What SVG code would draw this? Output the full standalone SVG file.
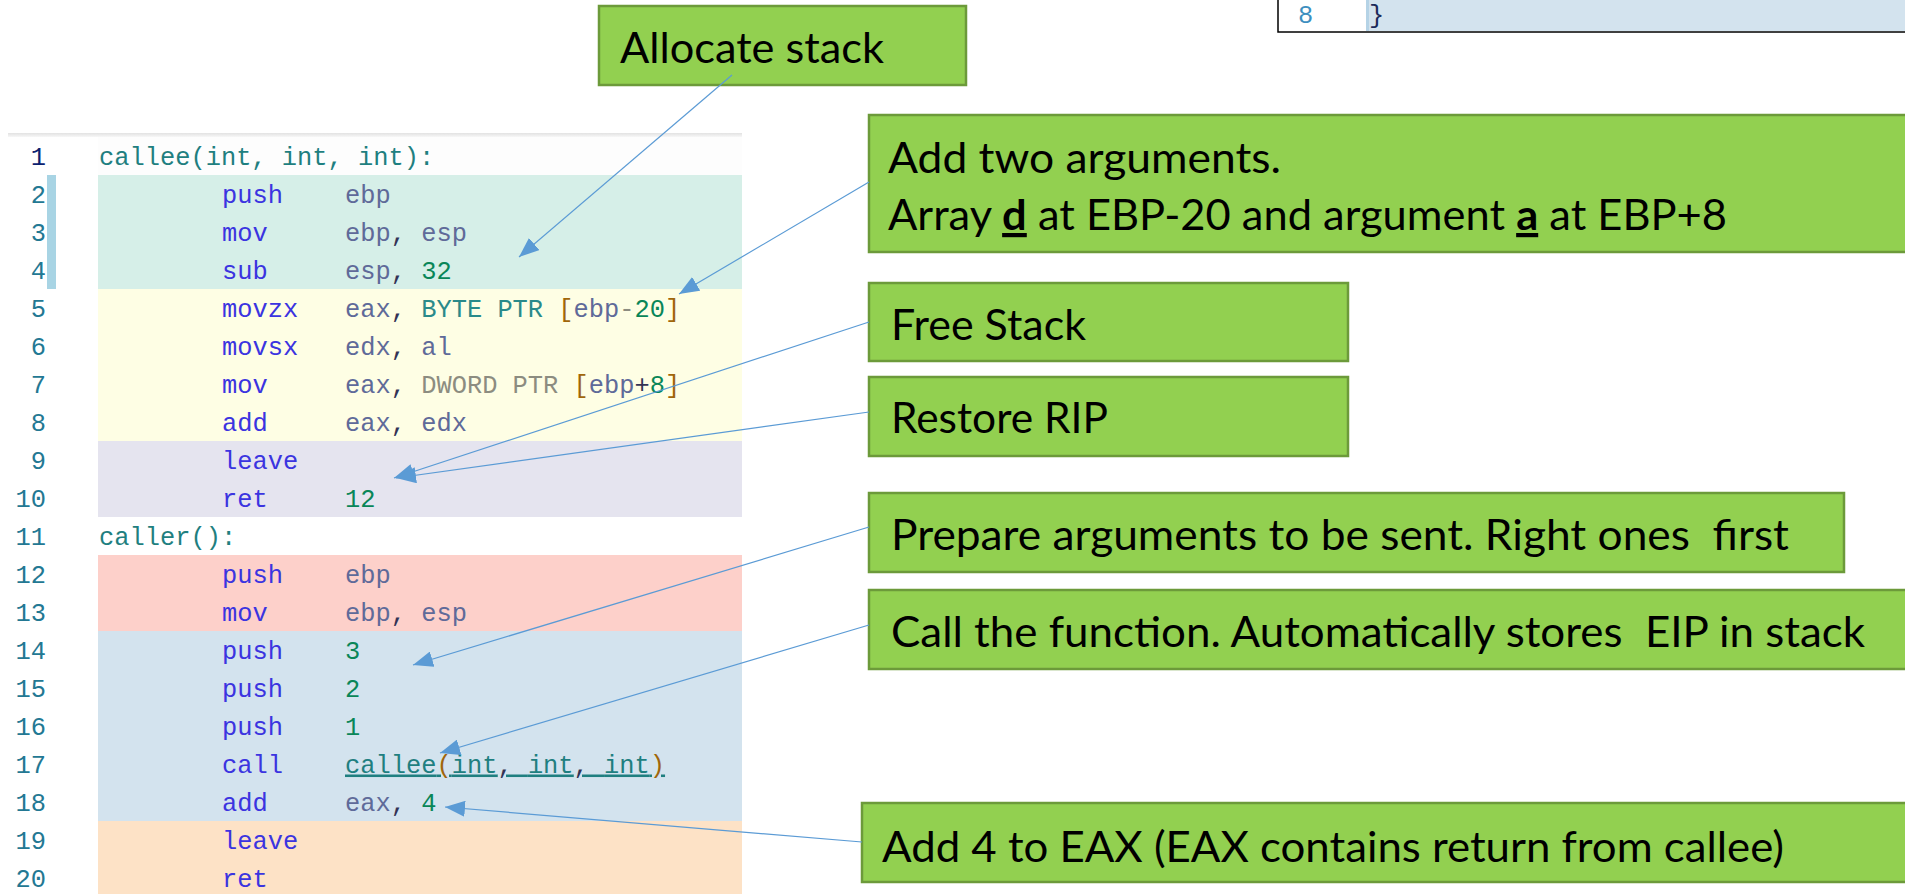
<svg xmlns="http://www.w3.org/2000/svg" width="1905" height="894" viewBox="0 0 1905 894">
<style>
.c{font-family:"Liberation Mono","DejaVu Sans Mono",monospace;font-size:25.4px;white-space:pre}
.ln{fill:#237893;text-anchor:end}
.lab{fill:#1f7f80}
.kw{fill:#3b34e0}
.reg{fill:#5f6a99}
.num{fill:#098658}
.bp{fill:#2a8a8a}
.dw{fill:#8c8c80}
.br{fill:#a0660a}
.pl{fill:#333355}
.box{fill:#92d050;stroke:#6c9a3a;stroke-width:2.5}
.t{font-family:Lato,"Liberation Sans",sans-serif;font-size:42px;fill:#000;white-space:pre}
.conn{stroke:#5b9bd5;stroke-width:1.2;fill:none;marker-end:url(#ah)}
</style>
<defs>
<marker id="ah" markerUnits="userSpaceOnUse" markerWidth="20" markerHeight="16" viewBox="0 0 20 16" refX="20" refY="8" orient="auto">
<path d="M0,0 L20,8 L0,16 z" fill="#5b9bd5"/>
</marker>
<linearGradient id="hdr" x1="0" y1="0" x2="0" y2="1">
<stop offset="0" stop-color="#e2e2e2"/>
<stop offset="1" stop-color="#f7f7f7"/>
</linearGradient>
</defs>
<rect width="1905" height="894" fill="#ffffff"/>

<!-- top-right code snippet -->
<g id="snippet">
<rect x="1278" y="-5" width="640" height="37" fill="#ffffff" stroke="#000" stroke-width="1.5"/>
<rect x="1367" y="-4" width="540" height="35" fill="#d3e3ee"/>
<rect x="1366" y="-4" width="3" height="35" fill="#b5d3e6"/>
<text class="c" x="1298" y="23" fill="#3d8fbf" font-size="27">8</text>
<text class="c" x="1369" y="23" fill="#1a2a5a" font-size="27">}</text>
</g>

<!-- code panel -->
<g id="code">
<rect x="8" y="133" width="734" height="4" fill="url(#hdr)"/>
<rect x="98" y="137" width="644" height="38" fill="#fdfdfd"/>
<rect x="98" y="175" width="644" height="114" fill="#d6efe8"/>
<rect x="98" y="289" width="644" height="152" fill="#fefee4"/>
<rect x="98" y="441" width="644" height="76" fill="#e5e4ef"/>
<rect x="98" y="555" width="644" height="76" fill="#fdd0ca"/>
<rect x="98" y="631" width="644" height="190" fill="#d3e3ee"/>
<rect x="98" y="821" width="644" height="73" fill="#fde2c6"/>
<rect x="47" y="175" width="9" height="114" fill="#a8d4e4"/>

<g class="c">
<text class="ln" x="46" y="164.5" style="fill:#0b216f">1</text>
<text class="ln" x="46" y="202.5">2</text>
<text class="ln" x="46" y="240.5">3</text>
<text class="ln" x="46" y="278.5">4</text>
<text class="ln" x="46" y="316.5">5</text>
<text class="ln" x="46" y="354.5">6</text>
<text class="ln" x="46" y="392.5">7</text>
<text class="ln" x="46" y="430.5">8</text>
<text class="ln" x="46" y="468.5">9</text>
<text class="ln" x="46" y="506.5">10</text>
<text class="ln" x="46" y="544.5">11</text>
<text class="ln" x="46" y="582.5">12</text>
<text class="ln" x="46" y="620.5">13</text>
<text class="ln" x="46" y="658.5">14</text>
<text class="ln" x="46" y="696.5">15</text>
<text class="ln" x="46" y="734.5">16</text>
<text class="ln" x="46" y="772.5">17</text>
<text class="ln" x="46" y="810.5">18</text>
<text class="ln" x="46" y="848.5">19</text>
<text class="ln" x="46" y="886.5">20</text>
</g>

<text class="c lab" x="99" y="164.5">callee(int, int, int):</text>
<text class="c" y="202.5"><tspan class="kw" x="222">push</tspan><tspan class="reg" x="345">ebp</tspan></text>
<text class="c" y="240.5"><tspan class="kw" x="222">mov</tspan><tspan class="reg" x="345">ebp</tspan><tspan class="pl">, </tspan><tspan class="reg">esp</tspan></text>
<text class="c" y="278.5"><tspan class="kw" x="222">sub</tspan><tspan class="reg" x="345">esp</tspan><tspan class="pl">, </tspan><tspan class="num">32</tspan></text>
<text class="c" y="316.5"><tspan class="kw" x="222">movzx</tspan><tspan class="reg" x="345">eax</tspan><tspan class="pl">, </tspan><tspan class="bp">BYTE PTR </tspan><tspan class="br">[</tspan><tspan class="reg">ebp</tspan><tspan class="dw">-</tspan><tspan class="num">20</tspan><tspan class="br">]</tspan></text>
<text class="c" y="354.5"><tspan class="kw" x="222">movsx</tspan><tspan class="reg" x="345">edx</tspan><tspan class="pl">, </tspan><tspan class="reg">al</tspan></text>
<text class="c" y="392.5"><tspan class="kw" x="222">mov</tspan><tspan class="reg" x="345">eax</tspan><tspan class="pl">, </tspan><tspan class="dw">DWORD PTR </tspan><tspan class="br">[</tspan><tspan class="reg">ebp</tspan><tspan class="pl">+</tspan><tspan class="num">8</tspan><tspan class="br">]</tspan></text>
<text class="c" y="430.5"><tspan class="kw" x="222">add</tspan><tspan class="reg" x="345">eax</tspan><tspan class="pl">, </tspan><tspan class="reg">edx</tspan></text>
<text class="c" y="468.5"><tspan class="kw" x="222">leave</tspan></text>
<text class="c" y="506.5"><tspan class="kw" x="222">ret</tspan><tspan class="num" x="345">12</tspan></text>
<text class="c lab" x="99" y="544.5">caller():</text>
<text class="c" y="582.5"><tspan class="kw" x="222">push</tspan><tspan class="reg" x="345">ebp</tspan></text>
<text class="c" y="620.5"><tspan class="kw" x="222">mov</tspan><tspan class="reg" x="345">ebp</tspan><tspan class="pl">, </tspan><tspan class="reg">esp</tspan></text>
<text class="c" y="658.5"><tspan class="kw" x="222">push</tspan><tspan class="num" x="345">3</tspan></text>
<text class="c" y="696.5"><tspan class="kw" x="222">push</tspan><tspan class="num" x="345">2</tspan></text>
<text class="c" y="734.5"><tspan class="kw" x="222">push</tspan><tspan class="num" x="345">1</tspan></text>
<text class="c" y="772.5"><tspan class="kw" x="222">call</tspan><tspan class="lab" x="345" text-decoration="underline">callee<tspan class="br">(</tspan>int<tspan class="pl">, </tspan>int<tspan class="pl">, </tspan>int<tspan class="br">)</tspan></tspan></text>
<text class="c" y="810.5"><tspan class="kw" x="222">add</tspan><tspan class="reg" x="345">eax</tspan><tspan class="pl">, </tspan><tspan class="num">4</tspan></text>
<text class="c" y="848.5"><tspan class="kw" x="222">leave</tspan></text>
<text class="c" y="886.5"><tspan class="kw" x="222">ret</tspan></text>
</g>

<!-- annotation boxes -->
<g id="n-allocate">
<rect class="box" x="599" y="6" width="367" height="79"/>
<text class="t" x="620" y="63" textLength="264" lengthAdjust="spacingAndGlyphs">Allocate stack</text>
</g>
<g id="n-addargs">
<rect class="box" x="869" y="115" width="1045" height="137"/>
<text class="t" x="888" y="173" textLength="393" lengthAdjust="spacingAndGlyphs">Add two arguments.</text>
<text class="t" x="888" y="230" textLength="839" lengthAdjust="spacingAndGlyphs">Array <tspan font-weight="bold" text-decoration="underline">d</tspan> at EBP-20 and argument <tspan font-weight="bold" text-decoration="underline">a</tspan> at EBP+8</text>
</g>
<g id="n-free">
<rect class="box" x="869" y="283" width="479" height="78"/>
<text class="t" x="891" y="340" textLength="195" lengthAdjust="spacingAndGlyphs">Free Stack</text>
</g>
<g id="n-restore">
<rect class="box" x="869" y="377" width="479" height="79"/>
<text class="t" x="891" y="433" textLength="217" lengthAdjust="spacingAndGlyphs">Restore RIP</text>
</g>
<g id="n-prepare">
<rect class="box" x="869" y="493" width="975" height="79"/>
<text class="t" x="891" y="550" textLength="898" lengthAdjust="spacingAndGlyphs">Prepare arguments to be sent. Right ones  first</text>
</g>
<g id="n-call">
<rect class="box" x="869" y="590" width="1045" height="79"/>
<text class="t" x="891" y="647" textLength="974" lengthAdjust="spacingAndGlyphs">Call the function. Automatically stores  EIP in stack</text>
</g>
<g id="n-add4">
<rect class="box" x="862" y="803" width="1052" height="79"/>
<text class="t" x="882" y="862" textLength="902" lengthAdjust="spacingAndGlyphs">Add 4 to EAX (EAX contains return from callee)</text>
</g>

<!-- connectors -->
<g id="connectors">
<line class="conn" x1="732" y1="75" x2="519" y2="257"/>
<line class="conn" x1="869" y1="182" x2="679" y2="294"/>
<line class="conn" x1="869" y1="322" x2="394" y2="478"/>
<line class="conn" x1="869" y1="412" x2="396" y2="478"/>
<line class="conn" x1="869" y1="527" x2="413" y2="665"/>
<line class="conn" x1="869" y1="625" x2="440" y2="753"/>
<line class="conn" x1="862" y1="842" x2="445" y2="807"/>
</g>
</svg>
